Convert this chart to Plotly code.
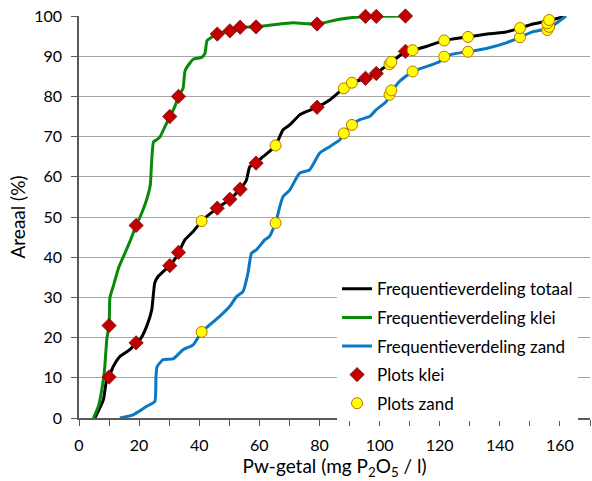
import plotly.graph_objects as go

# Cumulative frequency distributions (x = Pw-getal, y = Areaal %)
tot_x = [5.3, 8.1, 9.2, 10.0, 11.4, 13.6, 16.9, 19.0, 20.3, 22.5, 24.2, 25.2, 26.3, 28.0, 30.2, 32.5, 33.2,
         35.2, 38.0, 40.8, 46.0, 50.2, 53.5, 55.7, 56.8, 58.8, 61.2, 63.4, 65.4, 67.9, 70.1, 73.4, 75.6,
         79.2, 83.4, 86.1, 88.1, 90.8, 95.3, 98.9, 101.1, 103.3, 106.6, 108.6, 111.0, 115.5, 121.5,
         129.4, 136.5, 142.1, 146.7, 151.0, 156.2, 162.0]
tot_y = [0, 4.5, 9.5, 10.3, 12.8, 15.3, 17.0, 18.7, 19.5, 22.8, 26.9, 33.6, 35.2, 36.4, 37.9, 40.2, 41.2,
         44.3, 46.4, 49.0, 52.2, 54.4, 56.9, 59.2, 62.5, 63.4, 65.0, 66.3, 67.8, 71.7, 72.9, 75.4, 76.2,
         77.3, 79.1, 80.8, 82.0, 83.4, 84.5, 85.7, 87.0, 88.0, 90.1, 91.2, 91.5, 92.4, 93.9,
         94.8, 95.6, 96.0, 97.0, 98.0, 98.8, 100.0]

klei_x = [4.8, 6.5, 7.8, 8.5, 9.3, 10.0, 10.3, 11.5, 13.1, 14.8, 17.0, 19.0, 20.3, 21.4, 22.5, 23.7, 24.2,
          24.8, 25.8, 27.0, 28.6, 30.3, 31.9, 33.1, 34.6, 35.3, 36.9, 38.1, 40.8, 41.9, 42.6, 44.1, 45.9,
          50.2, 53.7, 59.0, 64.6, 71.2, 79.2, 86.7, 95.3, 108.6]
klei_y = [0, 3.0, 8.0, 12.0, 20.0, 22.9, 30.0, 33.0, 37.2, 40.2, 44.0, 47.9, 50.0, 52.0, 54.3, 57.9, 64.2,
          68.7, 69.2, 70.0, 72.5, 75.0, 77.5, 80.0, 82.0, 86.4, 88.3, 89.3, 89.7, 90.7, 93.9, 94.7, 95.5,
          96.3, 97.2, 97.3, 97.8, 98.3, 98.0, 99.2, 99.9, 100.0]

zand_x = [13.6, 18.0, 22.5, 25.2, 25.6, 26.0, 28.0, 31.3, 34.6, 38.0, 40.8, 43.5, 46.8, 50.2, 52.4, 54.6,
          56.2, 57.4, 59.0, 61.8, 63.4, 65.4, 66.8, 67.9, 70.1, 73.4, 76.7, 80.1, 83.4, 86.8, 88.1, 90.8,
          93.4, 96.7, 98.9, 102.2, 104.0, 106.6, 111.0, 115.5, 120.0, 121.5, 125.5, 129.4, 135.5, 142.1,
          146.7, 151.0, 156.2, 162.0]
zand_y = [0, 0.8, 2.9, 4.1, 10.4, 12.8, 14.5, 14.7, 17.0, 18.2, 21.4, 23.2, 25.3, 27.8, 30.2, 31.5,
          36.0, 41.0, 41.8, 44.3, 45.2, 48.5, 52.6, 55.1, 56.7, 60.9, 61.7, 65.9, 67.5, 69.2, 70.8, 72.9,
          74.2, 75.0, 76.7, 78.7, 81.1, 83.7, 86.2, 87.4, 88.7, 89.9, 90.7, 91.1, 91.9, 93.3,
          94.7, 96.1, 96.9, 100.0]

# Plot samples (clay: on clay curve and on total curve)
pk_x = [10.0, 19.0, 30.2, 33.1, 46.0, 50.2, 53.6, 58.9, 79.2, 95.3, 98.9, 108.6]
pk_on_klei = [23.0, 47.9, 75.0, 80.0, 95.5, 96.3, 97.2, 97.3, 98.0, 99.9, 99.9, 100.0]
pk_on_tot = [10.2, 18.7, 37.9, 41.2, 52.2, 54.4, 56.9, 63.4, 77.3, 84.5, 85.7, 91.2]

# Plot samples (sand: on sand curve and on total curve)
pz_x = [40.8, 65.4, 88.1, 90.8, 103.3, 103.9, 111.0, 121.5, 129.4, 146.7, 155.8, 156.4]
pz_on_zand = [21.4, 48.5, 70.8, 72.9, 80.4, 81.5, 86.2, 89.9, 91.1, 94.7, 96.5, 97.3]
pz_on_tot = [49.0, 67.8, 82.0, 83.4, 88.0, 88.6, 91.5, 93.9, 94.8, 97.0, 98.2, 99.0]

x_range = [0, 170]
y_range = [0, 100]

fig = go.Figure()
fig.add_trace(go.Scatter(x=tot_x, y=tot_y, mode='lines', name='Frequentieverdeling totaal',
                         legendgroup='a', line=dict(color='#000000', width=3, shape='spline', smoothing=0.5)))
fig.add_trace(go.Scatter(x=klei_x, y=klei_y, mode='lines', name='Frequentieverdeling klei',
                         legendgroup='b', line=dict(color='#088A08', width=3, shape='spline', smoothing=0.5)))
fig.add_trace(go.Scatter(x=zand_x, y=zand_y, mode='lines', name='Frequentieverdeling zand',
                         legendgroup='c', line=dict(color='#0A78C2', width=3, shape='spline', smoothing=0.5)))
fig.add_trace(go.Scatter(x=pk_x + pk_x, y=pk_on_klei + pk_on_tot, mode='markers', name='Plots klei',
                         legendgroup='d',
                         marker=dict(symbol='diamond', size=11, color='#C00000',
                                     line=dict(color='#7A1010', width=0.8)), cliponaxis=False))
fig.add_trace(go.Scatter(x=pz_x + pz_x, y=pz_on_zand + pz_on_tot, mode='markers', name='Plots zand',
                         legendgroup='e',
                         marker=dict(symbol='circle', size=11, color='#FFFF00',
                                     line=dict(color='#C07000', width=1)), cliponaxis=False))

fig.update_layout(
    width=592, height=481,
    margin=dict(l=79, r=2, t=16, b=63),
    plot_bgcolor='white', paper_bgcolor='white',
    font=dict(family='Lato', size=16, color='#000000'),
    legend=dict(x=0.505, y=0.365, xanchor='left', yanchor='top', bgcolor='white',
                font=dict(size=17), itemwidth=30, tracegroupgap=3.5),
    showlegend=True,
)
fig.update_xaxes(range=x_range, dtick=20, ticks='outside', ticklen=6,
                 tickcolor='#595959', showline=True, linecolor='#595959', linewidth=1.5,
                 minor=dict(dtick=10, ticks='outside', ticklen=6, tickcolor='#595959', showgrid=False),
                 showgrid=False, zeroline=False, ticklabelstandoff=6,
                 title=dict(text='Pw-getal (mg P<sub>2</sub>O<sub>5</sub> / l)', standoff=3))
fig.update_yaxes(range=y_range, dtick=10, ticks='outside', ticklen=6, tickcolor='#595959',
                 showline=True, linecolor='#595959', linewidth=1.5, ticklabelstandoff=6,
                 showgrid=True, gridcolor='#A6A6A6', gridwidth=1, zeroline=False,
                 title=dict(text='Areaal (%)', standoff=4))

fig.write_html('out.html')
